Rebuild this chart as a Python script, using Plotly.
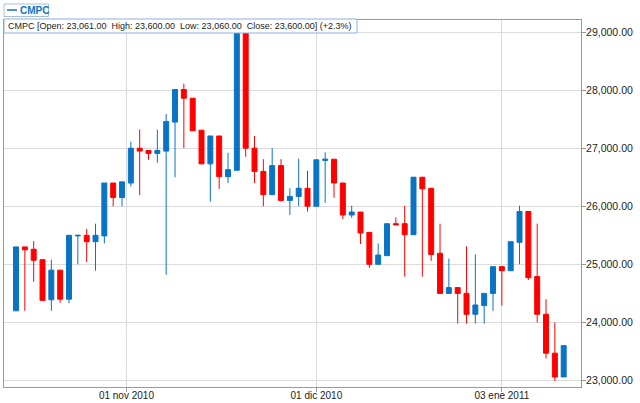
import bisect
import plotly.graph_objects as go

# ---- data ----
dates = [
    "2010-10-13", "2010-10-14", "2010-10-15", "2010-10-18", "2010-10-19", "2010-10-20",
    "2010-10-21", "2010-10-22", "2010-10-25", "2010-10-26", "2010-10-27", "2010-10-28",
    "2010-10-29",
    "2010-11-02", "2010-11-03", "2010-11-04", "2010-11-05", "2010-11-08", "2010-11-09",
    "2010-11-10", "2010-11-11", "2010-11-12", "2010-11-15", "2010-11-16", "2010-11-17",
    "2010-11-18", "2010-11-19", "2010-11-22", "2010-11-23", "2010-11-24", "2010-11-25",
    "2010-11-26", "2010-11-29", "2010-11-30",
    "2010-12-01", "2010-12-02", "2010-12-03", "2010-12-06", "2010-12-07", "2010-12-09",
    "2010-12-10", "2010-12-13", "2010-12-14", "2010-12-15", "2010-12-16", "2010-12-17",
    "2010-12-20", "2010-12-21", "2010-12-22", "2010-12-23", "2010-12-24", "2010-12-27",
    "2010-12-28", "2010-12-29", "2010-12-30",
    "2011-01-03", "2011-01-04", "2011-01-05", "2011-01-06", "2011-01-07", "2011-01-10",
    "2011-01-11", "2011-01-12",
]
opens = [24200, 25300, 25260, 25080, 24390, 24900, 24400, 25490, 25500, 25390,
         25490, 26400, 26150, 26400, 27000, 26960, 26910, 26950, 27450, 28010,
         27860, 27310, 26730, 27210, 26510, 26620, 29100, 27000, 26600, 26200,
         26700, 26100, 26170, 26310, 26000, 26790, 26810, 26400, 25850, 25900,
         25550, 25000, 25150, 25700, 25700, 25510, 26500, 26310, 25190, 24500,
         24600, 24500, 24140, 24290, 24500, 24960, 24890, 25380, 25910, 24790,
         24140, 23470, 23061]
highs = [25300, 25300, 25400, 25080, 25080, 24900, 25500, 25500, 25610, 25700,
         26400, 26400, 26420, 27110, 27320, 26970, 27320, 27590, 28010, 28110,
         27860, 27310, 27210, 27210, 26920, 29100, 29100, 27210, 26810, 27000,
         26810, 26310, 26820, 26610, 26800, 26930, 26810, 26400, 26010, 25900,
         25550, 25360, 25700, 25810, 26010, 26500, 26500, 26310, 25700, 25100,
         24600, 25310, 25170, 24500, 24960, 24960, 25390, 26010, 25910, 25700,
         24400, 24000, 23600]
lows = [24200, 24200, 24700, 24380, 24200, 24340, 24330, 25000, 25040, 24890,
        25360, 26000, 26000, 26340, 26190, 26800, 26750, 24820, 26500, 27000,
        27300, 26730, 26080, 26300, 26400, 26620, 26850, 26400, 26000, 26200,
        26080, 25850, 26000, 25910, 26000, 26060, 26150, 25780, 25800, 25350,
        24940, 25000, 25150, 25680, 24790, 25510, 24790, 25060, 24500, 24500,
        23980, 23980, 23980, 23980, 24200, 24290, 24890, 25000, 24730, 24000,
        23380, 22990, 23060]
closes = [25300, 25250, 25070, 24380, 24900, 24400, 25500, 25500, 25390, 25500,
          26400, 26150, 26420, 27000, 26950, 26910, 26960, 27460, 28010, 27860,
          27300, 26730, 27210, 26510, 26630, 29100, 27000, 26600, 26200, 26700,
          26100, 26170, 26310, 26000, 26800, 26810, 26400, 25850, 25900, 25540,
          25000, 25160, 25700, 25680, 25510, 26500, 26300, 25170, 24500, 24600,
          24500, 24140, 24300, 24500, 24960, 24890, 25390, 25910, 24770, 24140,
          23470, 23060, 23600]

tick_dates = ["2010-11-01", "2010-12-01", "2011-01-03"]
tick_labels = ["01 nov 2010", "01 dic 2010", "03 ene 2011"]
y_ticks = [23000, 24000, 25000, 26000, 27000, 28000, 29000]

header = ("CMPC [Open: 23,061.00  High: 23,600.00  Low: 23,060.00  "
          "Close: 23,600.00] (+2.3%)").replace(" ", "\u00a0")
series_name = "CMPC"

# ---- positions on a trading-day axis ----
xs = list(range(len(dates)))


def day_pos(d):
    i = bisect.bisect_left(dates, d)
    if i < len(dates) and dates[i] == d:
        return float(i)
    return i - 0.5


tick_pos = [day_pos(d) for d in tick_dates]

BLUE = "#0a74c4"
RED = "#ff0000"
FONT = "Liberation Sans, Arial, sans-serif"

fig = go.Figure()
fig.add_trace(go.Candlestick(
    x=xs, open=opens, high=highs, low=lows, close=closes,
    increasing=dict(line=dict(color=BLUE, width=1), fillcolor=BLUE),
    decreasing=dict(line=dict(color=RED, width=1), fillcolor=RED),
    whiskerwidth=0, hoverinfo="skip", showlegend=False, name=series_name,
))

PW, PH = 577.0, 367.0  # plot area size in px

shapes = [
    # header box
    dict(type="rect", xref="paper", yref="paper",
         x0=0, x1=353 / PW, y0=1 - 13 / PH, y1=1 + 1 / PH,
         line=dict(color="#8eaedb", width=1), fillcolor="white", layer="above"),
    # legend box
    dict(type="rect", xref="paper", yref="paper",
         x0=0, x1=44.5 / PW, y0=1 + 3.5 / PH, y1=1 + 16 / PH,
         line=dict(color="#a9bfdc", width=1), fillcolor="white", layer="above"),
    dict(type="line", xref="paper", yref="paper",
         x0=3 / PW, x1=13 / PW, y0=1 + 10 / PH, y1=1 + 10 / PH,
         line=dict(color=BLUE, width=1.5), layer="above"),
]

annotations = [
    dict(text=header, xref="paper", yref="paper", x=2 / PW, y=1 - 6 / PH,
         xanchor="left", yanchor="middle", showarrow=False,
         font=dict(family=FONT, size=9, color="#222")),
    dict(text="<b>" + series_name + "</b>", xref="paper", yref="paper",
         x=14 / PW, y=1 + 9.8 / PH, xanchor="left", yanchor="middle",
         showarrow=False, font=dict(family=FONT, size=10, color=BLUE)),
]

fig.update_layout(
    width=640, height=403,
    margin=dict(l=4, r=59, t=20, b=16, pad=0),
    paper_bgcolor="white", plot_bgcolor="white",
    boxgap=0.2,
    shapes=shapes, annotations=annotations,
    hovermode=False,
    xaxis=dict(
        range=[-1.36, 63.96], rangeslider=dict(visible=False),
        tickmode="array", tickvals=tick_pos, ticktext=tick_labels,
        showgrid=True, gridcolor="#dcd8e2", gridwidth=1,
        ticks="outside", ticklen=4, tickcolor="#999",
        showline=True, linecolor="#9a9a9a", linewidth=1, mirror=True,
        zeroline=False, automargin=False, ticklabelstandoff=-5,
        tickfont=dict(family=FONT, size=10, color="#222"),
    ),
    yaxis=dict(
        side="right", range=[22888, 29207],
        tickmode="array", tickvals=y_ticks,
        ticktext=[f"{v:,.2f}" for v in y_ticks],
        showgrid=True, gridcolor="#dcdcdc", gridwidth=1,
        ticks="outside", ticklen=4, tickcolor="#999",
        showline=True, linecolor="#9a9a9a", linewidth=1, mirror=True,
        zeroline=False, automargin=False, ticklabelstandoff=-2,
        tickfont=dict(family=FONT, size=10.5, color="#222"),
    ),
)

fig.write_html(
    "out.html",
    config={"displayModeBar": False, "staticPlot": True},
    post_script="document.body.style.margin='0';document.body.style.overflow='hidden';",
)
